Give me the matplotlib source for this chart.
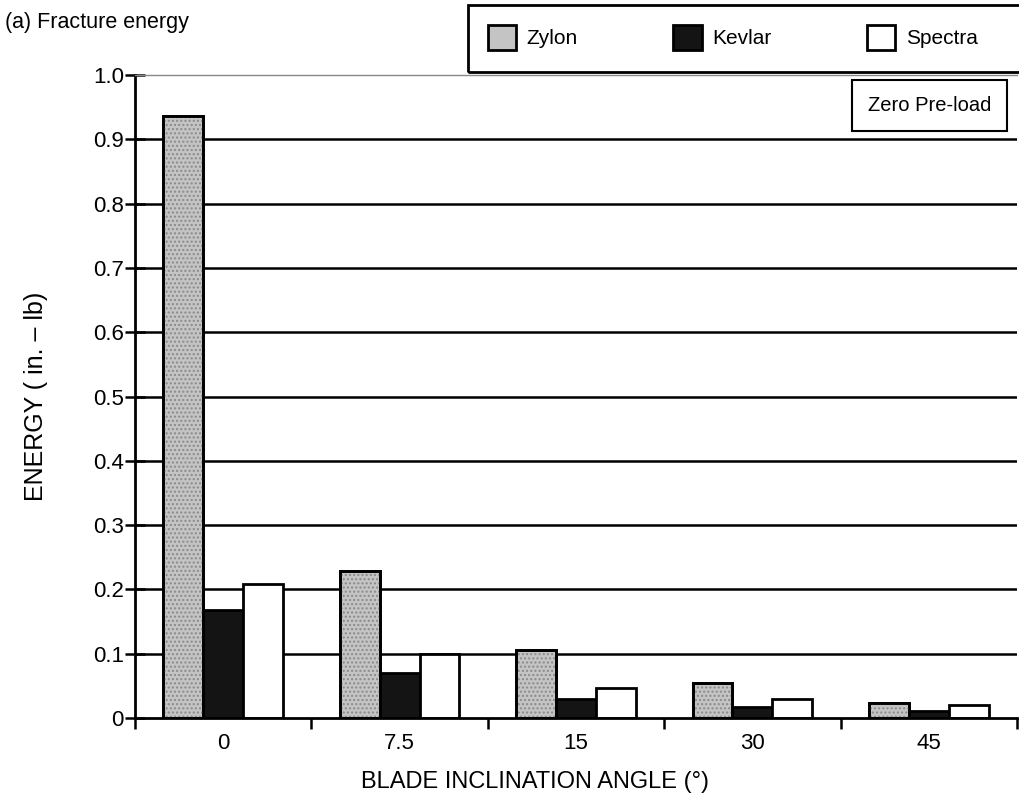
import numpy as np
import matplotlib.pyplot as plt
from matplotlib.patches import Rectangle

plt.rcParams['font.family'] = ['Liberation Sans', 'DejaVu Sans']

angles = ["0", "7.5", "15", "30", "45"]
zylon = [0.936, 0.229, 0.106, 0.054, 0.024]
kevlar = [0.168, 0.070, 0.030, 0.017, 0.011]
spectra = [0.208, 0.100, 0.047, 0.030, 0.020]
yticks = [0, 0.1, 0.2, 0.3, 0.4, 0.5, 0.6, 0.7, 0.8, 0.9, 1.0]
ylabels = ["0", "0.1", "0.2", "0.3", "0.4", "0.5", "0.6", "0.7", "0.8", "0.9", "1.0"]

fig = plt.figure(figsize=(10.19, 7.99), dpi=100)
ax = fig.add_axes([0.1325, 0.1014, 0.8655, 0.8047])

x = np.arange(len(angles))
w = 0.226

# gridlines behind the bars
for yv in yticks[1:-1]:
    ax.axhline(yv, color="black", lw=1.8, zorder=0)

styles = [
    (zylon, -w, "#c4c4c4", "Zylon"),
    (kevlar, 0, "#141414", "Kevlar"),
    (spectra, w, "white", "Spectra"),
]
handles = []
for vals, off, col, name in styles:
    b = ax.bar(x + off, vals, w, color=col, edgecolor="black", linewidth=2,
               label=name, zorder=2)
    handles.append(b)
# speckle texture on the grey bars
ax.bar(x - w, zylon, w, color="none", edgecolor="#8a8a8a", hatch="....",
       linewidth=0, zorder=3)
ax.bar(x - w, zylon, w, color="none", edgecolor="black", linewidth=2, zorder=4)

ax.set_xlim(-0.5, len(angles) - 0.5)
ax.set_ylim(0, 1.0)

ax.set_yticks(yticks)
ax.set_yticklabels(ylabels, fontsize=16)
ax.tick_params(axis="y", direction="inout", length=14, width=1.8, pad=1)

ax.set_xticks(np.arange(len(angles) + 1) - 0.5)
ax.set_xticklabels([""] * (len(angles) + 1))
ax.set_xticks(x, minor=True)
ax.set_xticklabels(angles, minor=True, fontsize=16)
ax.tick_params(axis="x", which="major", direction="out", length=8, width=1.8)
ax.tick_params(axis="x", which="minor", length=0, pad=11)

for s in ["left", "bottom"]:
    ax.spines[s].set_linewidth(2)
ax.spines["right"].set_visible(False)
ax.spines["top"].set_color("#888888")
ax.spines["top"].set_linestyle((0, (2, 1)))
ax.spines["top"].set_linewidth(1)

ax.set_ylabel("ENERGY ( in. \u2013 lb)", fontsize=18, labelpad=32)
ax.set_xlabel("BLADE INCLINATION ANGLE (\u00b0)", fontsize=17, labelpad=12,
              x=0.4535)

fig.text(0.005, 0.972, "(a) Fracture energy", fontsize=15.5, va="center")

ax.text(0.901, 0.9526, "Zero Pre-load", transform=ax.transAxes, fontsize=14.5,
        ha="center", va="center",
        bbox=dict(boxstyle="square,pad=0.8", fc="white", ec="black", lw=1.5))

leg = fig.legend(handles=handles, loc="upper left", ncol=3,
                 bbox_to_anchor=(468 / 1019, 1 - 5 / 799),
                 fontsize=15, frameon=False,
                 handlelength=1.35, handleheight=1.45, handletextpad=0.5,
                 columnspacing=4.6, borderpad=0.95, borderaxespad=0)
# legend frame runs off the right edge, as in the original
fig.patches.append(Rectangle((468 / 1019, 1 - 72 / 799), 600 / 1019, 67 / 799,
                             transform=fig.transFigure, fill=False,
                             edgecolor="black", linewidth=2))

plt.savefig("out.png", dpi=100)
